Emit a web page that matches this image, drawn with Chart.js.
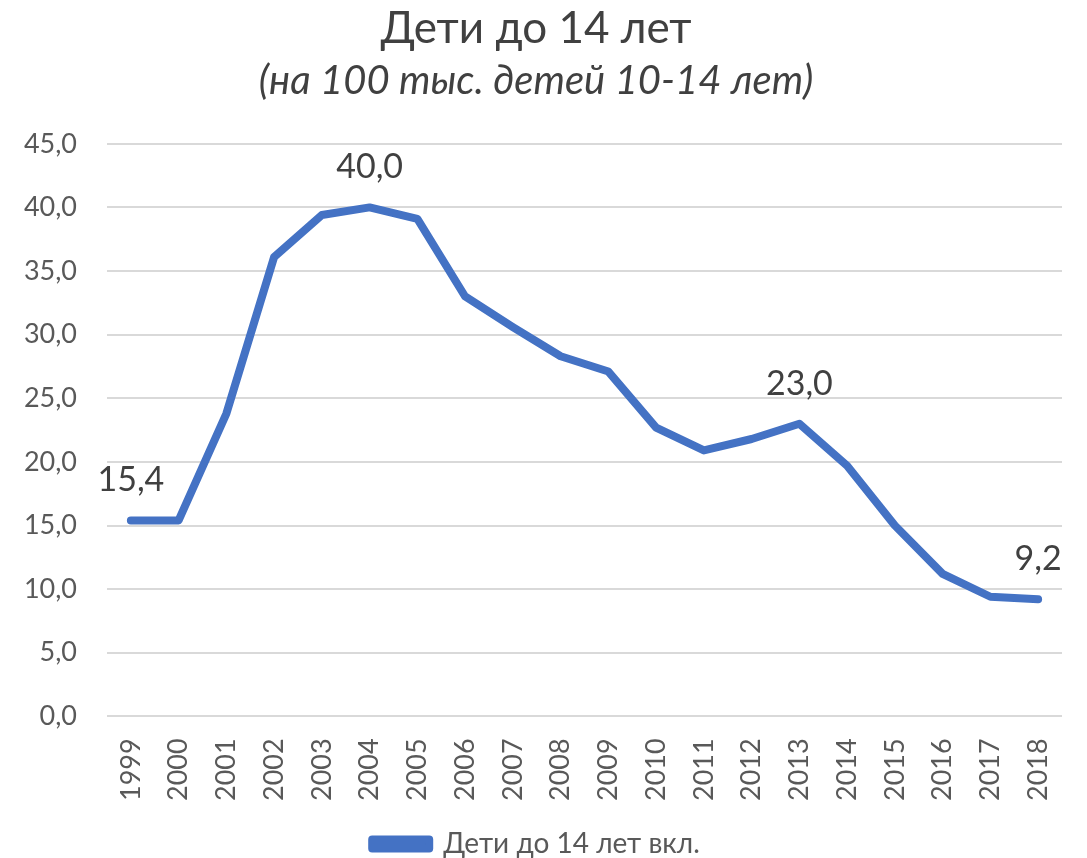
<!DOCTYPE html>
<html>
<head>
<meta charset="utf-8">
<script src="https://cdn.jsdelivr.net/npm/chart.js@4/dist/chart.umd.min.js"></script>
<style>
  html, body { margin: 0; padding: 0; background: #fff; }
  #wrap { width: 1087px; height: 858px; }
</style>
</head>
<body>
<div id="wrap"><canvas id="chart" width="1087" height="858"></canvas></div>
<script>
const years = ['1999', '2000', '2001', '2002', '2003', '2004', '2005', '2006', '2007', '2008',
  '2009', '2010', '2011', '2012', '2013', '2014', '2015', '2016', '2017', '2018'];
const children = [15.4, 15.4, 23.8, 36.1, 39.4, 40.0, 39.1, 33.0, 30.6, 28.3,
  27.1, 22.7, 20.9, 21.8, 23.0, 19.7, 15.0, 11.2, 9.4, 9.2];
const labelled = [0, 5, 14, 19];
const seriesName = 'Дети до 14 лет вкл.';

const fmt = v => v.toFixed(1).replace('.', ',');

// value labels above selected points, legend nudged down a bit
const pointLabels = {
  id: 'pointLabels',
  afterLayout(chart) {
    chart.legend.top += 10;
    chart.legend.bottom += 10;
  },
  afterDatasetsDraw(chart) {
    const ctx = chart.ctx;
    const meta = chart.getDatasetMeta(0);
    ctx.save();
    ctx.font = '34px Lato';
    ctx.fillStyle = '#404040';
    ctx.textAlign = 'center';
    ctx.textBaseline = 'middle';
    labelled.forEach(i => {
      const p = meta.data[i];
      ctx.fillText(fmt(children[i]), p.x, p.y - 40);
    });
    ctx.restore();
  }
};

new Chart(document.getElementById('chart'), {
  type: 'line',
  data: {
    labels: years,
    datasets: [{
      label: seriesName,
      data: children,
      borderColor: '#4472C4',
      backgroundColor: '#4472C4',
      borderWidth: 8,
      borderCapStyle: 'round',
      borderJoinStyle: 'round',
      pointRadius: 0,
      tension: 0
    }]
  },
  options: {
    responsive: false,
    animation: false,
    layout: { padding: { left: 10, right: 25, top: 0, bottom: 0 } },
    plugins: {
      title: {
        display: true,
        text: 'Дети до 14 лет',
        color: '#404040',
        font: { family: 'Lato', size: 44, weight: 'normal' },
        padding: { top: 2, bottom: 0 }
      },
      subtitle: {
        display: true,
        text: '(на 100 тыс. детей 10-14 лет)',
        color: '#404040',
        font: { family: 'Lato', size: 40, style: 'italic', weight: 'normal' },
        padding: { top: 2, bottom: 39 }
      },
      legend: {
        position: 'bottom',
        labels: {
          color: '#595959',
          font: { family: 'Lato', size: 28 },
          boxWidth: 57,
          boxHeight: 9,
          padding: 0
        }
      },
      tooltip: { enabled: false }
    },
    scales: {
      x: {
        offset: true,
        afterFit(scale) { scale.height += 5; },
        grid: { display: false },
        border: { display: false },
        ticks: {
          color: '#595959',
          font: { family: 'Lato', size: 27 },
          minRotation: 90,
          maxRotation: 90,
          padding: 14
        }
      },
      y: {
        min: 0,
        max: 45,
        afterFit(scale) { scale.width = 97; },
        grid: { color: '#d9d9d9', lineWidth: 2, drawTicks: false },
        border: { display: false },
        ticks: {
          stepSize: 5,
          color: '#595959',
          font: { family: 'Lato', size: 27 },
          padding: 30,
          callback: v => fmt(v)
        }
      }
    }
  },
  plugins: [pointLabels]
});
</script>
</body>
</html>
